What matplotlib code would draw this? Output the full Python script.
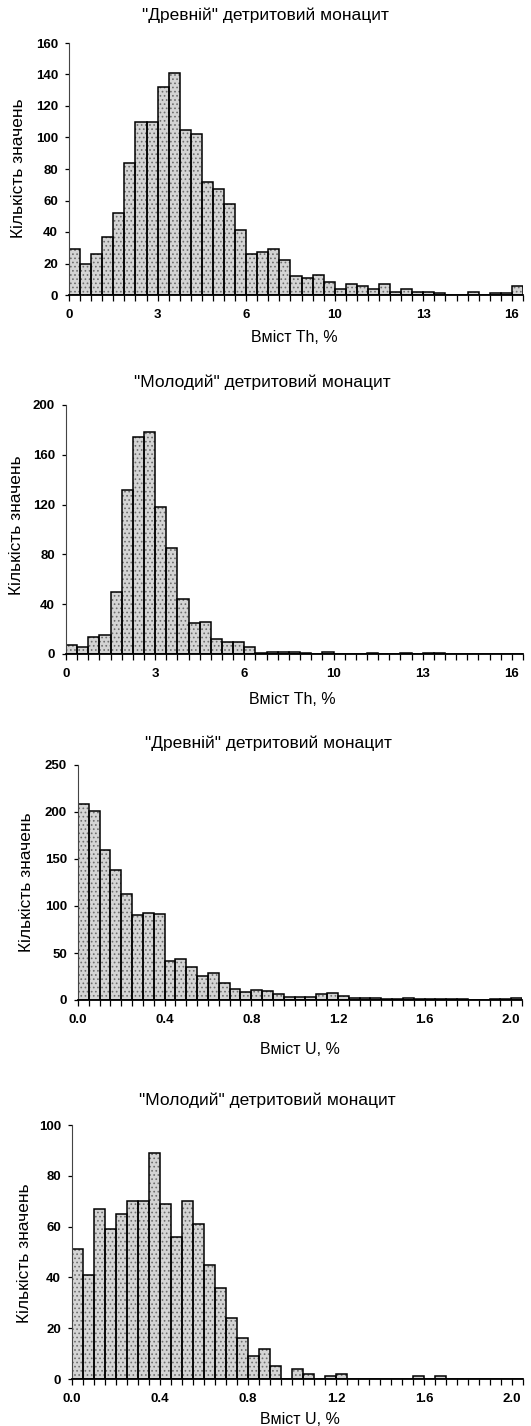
import matplotlib
matplotlib.use("Agg")
import matplotlib.pyplot as plt
import numpy as np

plt.rcParams["font.family"] = ["Liberation Sans", "DejaVu Sans"]
plt.rcParams["hatch.linewidth"] = 0.7

W, H = 531, 1426

# histogram counts, 40 bins + overflow bin
th_old = [29, 20, 26, 37, 52, 84, 110, 110, 132, 141, 105, 102, 72, 67, 58, 41,
          26, 27, 29, 22, 12, 11, 13, 8, 4, 7, 6, 4, 7, 2, 4, 2, 2, 1, 0, 0,
          2, 0, 1, 1, 6]
th_young = [7, 6, 14, 15, 50, 132, 174, 178, 118, 85, 44, 25, 26, 12, 10, 10,
            6, 1, 2, 2, 2, 1, 0, 2, 0, 0, 0, 1, 0, 0, 1, 0, 1, 1, 0, 0,
            0, 0, 0, 0, 0]
u_old = [208, 201, 160, 138, 113, 90, 93, 91, 42, 44, 35, 26, 29, 18, 12, 9,
         11, 10, 6, 3, 3, 3, 6, 7, 4, 2, 2, 2, 1, 1, 2, 1, 1, 1, 1, 1,
         0, 0, 1, 1, 2]
u_young = [51, 41, 67, 59, 65, 70, 70, 89, 69, 56, 70, 61, 45, 36, 24, 16,
           9, 12, 5, 0, 4, 2, 0, 1, 2, 0, 0, 0, 0, 0, 0, 1, 0, 1, 0, 0,
           0, 0, 0, 0, 0]

th_bin = 0.4
u_bin = 0.05

th_ticks = [0, 3.2, 6.4, 9.6, 12.8, 16.0]
th_ticklabels = ["0", "3", "6", "10", "13", "16"]
u_ticks = [0.0, 0.4, 0.8, 1.2, 1.6, 2.0]
u_ticklabels = ["0.0", "0.4", "0.8", "1.2", "1.6", "2.0"]

titles = ['"Древній" детритовий монацит', '"Молодий" детритовий монацит',
          '"Древній" детритовий монацит', '"Молодий" детритовий монацит']
xlabels = ["Вміст Th, %", "Вміст Th, %", "Вміст U, %", "Вміст U, %"]
ylabel = "Кількість значень"

panels = [
    # counts, bin, ymax, ystep, ticks, labels, axes box px (l, t, r, b), title xy, xlabel xy, ylabel xy
    (th_old, th_bin, 160, 20, th_ticks, th_ticklabels, (69, 43, 523, 295), (265, 15), (294, 338), (19, 168)),
    (th_young, th_bin, 200, 40, th_ticks, th_ticklabels, (66, 405, 523, 654), (262, 382), (292, 700), (17, 525)),
    (u_old, u_bin, 250, 50, u_ticks, u_ticklabels, (78, 765, 522, 1000), (268, 743), (300, 1050), (27, 882)),
    (u_young, u_bin, 100, 20, u_ticks, u_ticklabels, (72, 1125, 523, 1379), (267, 1100), (300, 1419), (25, 1253)),
]

fig = plt.figure(figsize=(W / 100, H / 100), dpi=100)

for k, (counts, bw, ymax, ystep, ticks, tlabels, box, tpos, xlpos, ylpos) in enumerate(panels):
    l, t, r, b = box
    ax = fig.add_axes([l / W, 1 - b / H, (r - l) / W, (b - t) / H])
    edges = np.arange(len(counts)) * bw
    ax.bar(edges, counts, width=bw, align="edge", color="#d4d4d4",
           edgecolor="#6e6e6e", linewidth=0, hatch="....")
    ax.bar(edges, counts, width=bw, align="edge", fill=False,
           edgecolor="black", linewidth=1.1)
    ax.set_xlim(0, len(counts) * bw)
    ax.set_ylim(0, ymax)
    ax.set_yticks(np.arange(0, ymax + 1, ystep))
    ax.set_xticks(ticks)
    ax.set_xticklabels(tlabels)
    ax.set_xticks(np.arange(len(counts) + 1) * bw, minor=True)
    ax.tick_params(axis="x", which="both", direction="out", length=4, width=0.9, pad=6)
    ax.tick_params(axis="y", direction="out", length=3, width=0.9, pad=5)
    for lab in ax.get_xticklabels() + ax.get_yticklabels():
        lab.set_fontsize(9.5)
        lab.set_fontweight("bold")
    for s in ("top", "right"):
        ax.spines[s].set_visible(False)
    ax.spines["left"].set_linewidth(0.8)
    ax.spines["left"].set_color("#444444")
    ax.spines["bottom"].set_linewidth(1.3)

    fig.text(tpos[0] / W, 1 - tpos[1] / H, titles[k], ha="center", va="center", fontsize=12.5)
    fig.text(xlpos[0] / W, 1 - xlpos[1] / H, xlabels[k], ha="center", va="center", fontsize=11.5)
    fig.text(ylpos[0] / W, 1 - ylpos[1] / H, ylabel, ha="center", va="center",
             rotation=90, fontsize=12.5)

fig.savefig("out.png", dpi=100)
